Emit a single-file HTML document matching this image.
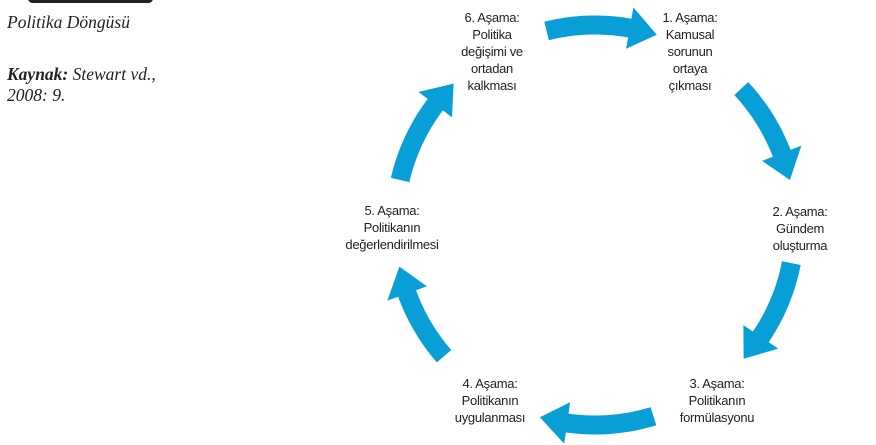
<!DOCTYPE html>
<html><head><meta charset="utf-8">
<style>
html,body{margin:0;padding:0;background:#fff;}
body{width:876px;height:445px;position:relative;overflow:hidden;}
.bar{position:absolute;left:28px;top:-6px;width:125px;height:9px;background:#222;border-radius:5px;}
.cap{position:absolute;left:7px;font-family:"Liberation Serif",serif;font-style:italic;font-size:17.5px;color:#222;line-height:21px;}
.lbl{position:absolute;font-family:"Liberation Sans",sans-serif;font-size:13px;line-height:17px;color:#222;text-align:center;width:140px;letter-spacing:-0.3px;}
svg{position:absolute;left:0;top:0;}
</style></head><body>
<div class="bar"></div>
<div class="cap" style="top:12px;">Politika Döngüsü</div>
<div class="cap" style="top:64px;"><b>Kaynak:</b> Stewart vd.,<br>2008: 9.</div>
<svg id="s" width="876" height="445"></svg>
<div class="lbl" style="left:620px;top:9px;">1. Aşama:<br>Kamusal<br>sorunun<br>ortaya<br>çıkması</div>
<div class="lbl" style="left:730px;top:203px;">2. Aşama:<br>Gündem<br>oluşturma</div>
<div class="lbl" style="left:647px;top:375px;">3. Aşama:<br>Politikanın<br>formülasyonu</div>
<div class="lbl" style="left:420px;top:375px;">4. Aşama:<br>Politikanın<br>uygulanması</div>
<div class="lbl" style="left:322px;top:202px;">5. Aşama:<br>Politikanın<br>değerlendirilmesi</div>
<div class="lbl" style="left:422px;top:9px;">6. Aşama:<br>Politika<br>değişimi ve<br>ortadan<br>kalkması</div>
<script>
var cx=595,cy=225,R=200,bw=9.5,hw=21;
var arrows=[[-104,-72],[-43,-13],[11,42],[73,106],[139,168],[193,225]];
function pt(a,r){a=a*Math.PI/180;return [cx+r*Math.cos(a),cy+r*Math.sin(a)];}
var out='';
arrows.forEach(function(A){
  var s=A[0],e=A[1],hb=e-8,pts=[],i,n=20;
  for(i=0;i<=n;i++)pts.push(pt(s+(hb-s)*i/n,R+bw));
  pts.push(pt(hb,R+hw));pts.push(pt(e,R));pts.push(pt(hb,R-hw));
  for(i=n;i>=0;i--)pts.push(pt(s+(hb-s)*i/n,R-bw));
  out+='<polygon fill="#079fd6" points="'+pts.map(function(p){return p[0].toFixed(1)+','+p[1].toFixed(1);}).join(' ')+'"/>';
});
document.getElementById('s').innerHTML=out;
</script>
</body></html>
